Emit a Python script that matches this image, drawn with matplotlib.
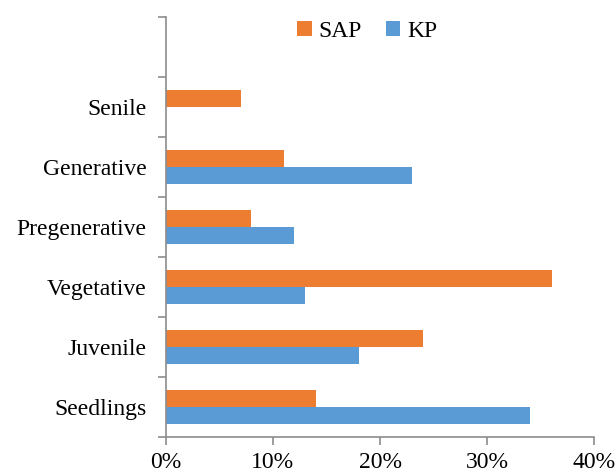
import numpy as np
import matplotlib.pyplot as plt

categories = ['Seedlings', 'Juvenile', 'Vegetative', 'Pregenerative', 'Generative', 'Senile', '']
sap = [14, 24, 36, 8, 11, 7, 0]
kp = [34, 18, 13, 12, 23, 0, 0]

plt.rcParams['font.family'] = ['Liberation Serif', 'DejaVu Serif']

fig = plt.figure(figsize=(6.16, 4.74), dpi=100)
ax = fig.add_axes([0.269, 0.078, 0.696, 0.887])

y = np.arange(len(categories))
h = 0.283
ax.barh(y + h / 2, sap, height=h, color='#ED7D31', label='SAP')
ax.barh(y - h / 2, kp, height=h, color='#5B9BD5', label='KP')

ax.set_xlim(0, 40)
ax.set_ylim(-0.5, len(categories) - 0.5)
ax.set_xticks([0, 10, 20, 30, 40])
ax.set_xticklabels(['0%', '10%', '20%', '30%', '40%'])
ax.set_yticks(np.arange(len(categories) + 1) - 0.5)
ax.set_yticklabels([])
ax.set_yticks(y, minor=True)
ax.set_yticklabels(categories, minor=True)

for s in ['top', 'right']:
    ax.spines[s].set_visible(False)
for s in ['left', 'bottom']:
    ax.spines[s].set_color('#8c8c8c')
    ax.spines[s].set_linewidth(1.2)

ax.tick_params(axis='both', which='major', direction='out', length=6, color='#8c8c8c', width=1.2)
ax.tick_params(axis='x', labelsize=17, pad=5)
ax.tick_params(axis='y', which='minor', length=0, labelsize=17, pad=14)

ax.legend(loc='upper center', bbox_to_anchor=(0.47, 1.04), ncol=2, frameon=False,
          fontsize=17, handlelength=0.6, handleheight=0.6, handletextpad=0.3,
          columnspacing=1.0)

fig.savefig('out.png')
